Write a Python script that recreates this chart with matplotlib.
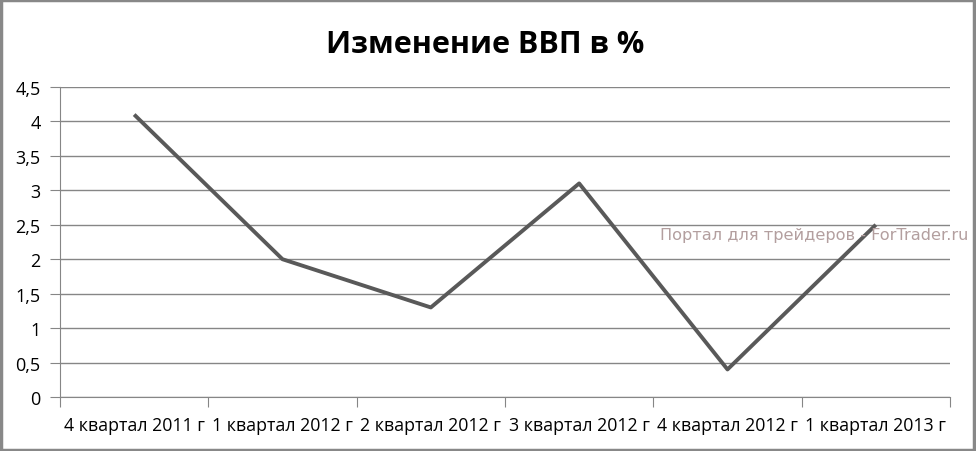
import matplotlib
matplotlib.use('Agg')
import matplotlib.pyplot as plt
from matplotlib.patches import Rectangle
from matplotlib.ticker import FuncFormatter

quarters = ['4 квартал 2011 г', '1 квартал 2012 г', '2 квартал 2012 г',
            '3 квартал 2012 г', '4 квартал 2012 г', '1 квартал 2013 г']
gdp_change = [4.1, 2.0, 1.3, 3.1, 0.4, 2.5]
y_ticks = [0, 0.5, 1, 1.5, 2, 2.5, 3, 3.5, 4, 4.5]

plt.rcParams['font.family'] = ['Open Sans', 'DejaVu Sans']

fig = plt.figure(figsize=(9.76, 4.52), dpi=100)
ax = fig.add_axes([60 / 976, 1 - 398 / 452, 890 / 976, 310 / 452])

x = list(range(len(quarters)))
ax.plot(x, gdp_change, color='#595959', linewidth=2.8, solid_capstyle='butt', zorder=3)

ax.set_xlim(-0.5, len(quarters) - 0.5)
ax.set_ylim(0, 4.5)
ax.set_yticks(y_ticks)
ax.yaxis.set_major_formatter(FuncFormatter(lambda v, p: f'{v:g}'.replace('.', ',')))
ax.set_xticks([i + 0.5 for i in range(-1, len(quarters))], minor=False)
ax.set_xticklabels([])
ax.set_xticks(x, minor=True)
ax.set_xticklabels(quarters, minor=True)
ax.tick_params(axis='x', which='minor', length=0, pad=14, labelsize=12.8, colors='black')
ax.tick_params(axis='x', which='major', length=7, color='#868686', direction='out')
ax.tick_params(axis='y', length=7, color='#868686', labelsize=13, pad=7)

ax.grid(axis='y', color='#868686', linewidth=1)
ax.set_axisbelow(True)
for side in ['top', 'right']:
    ax.spines[side].set_visible(False)
ax.spines['left'].set_color('#868686')
ax.spines['bottom'].set_color('#868686')

fig.text(0.497, 0.9, 'Изменение ВВП в %', ha='center', va='center',
         fontsize=22, fontweight='bold')
fig.text(0.676, 1 - 240 / 452, 'Портал для трейдеров - ForTrader.ru', ha='left',
         va='baseline', fontsize=11.6, color='#b39f9f', family='DejaVu Sans', zorder=2)

fig.patches.append(Rectangle((0.001, 0.002), 0.997, 0.996, transform=fig.transFigure,
                             fill=False, edgecolor='#888888', linewidth=2.5))

fig.savefig('out.png', dpi=100)
